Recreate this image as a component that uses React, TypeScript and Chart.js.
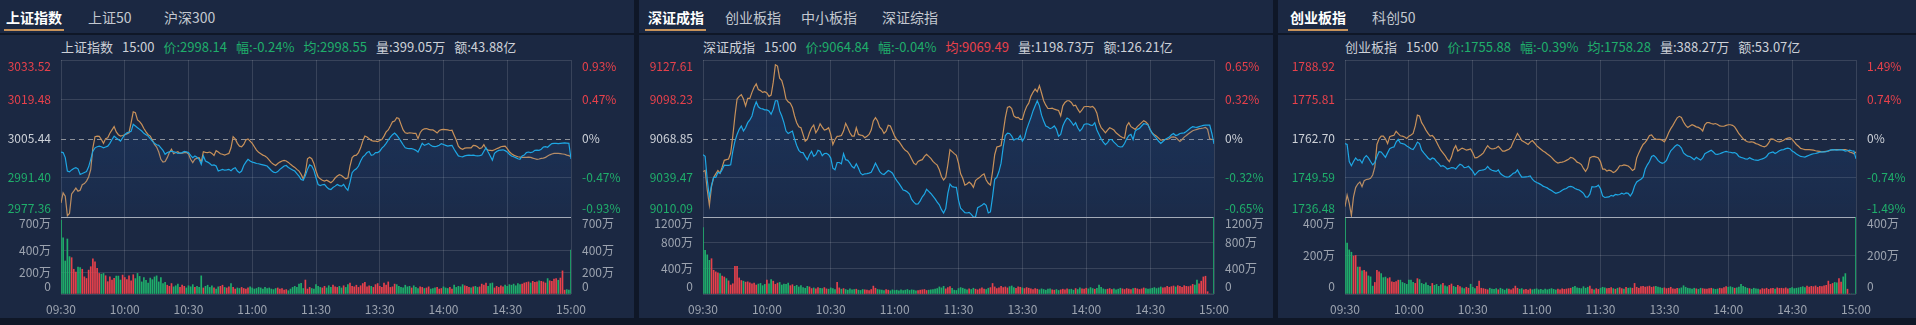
import React, { useEffect, useRef } from 'react';
import { Chart, registerables } from 'chart.js';

Chart.register(...registerables);

const FONT = '"Noto Sans CJK SC", "Noto Sans", sans-serif';
const RED = '#e8414b';
const GREEN = '#1fae6b';
const NEUTRAL = '#cdd1d8';
const AXIS_GRAY = '#9ca3af';
const BLUE = '#1ea7e4';
const ORANGE = '#c8915a';
const GRID = 'rgba(255,255,255,0.13)';
const SEP = '#a4abb7';
const PANEL_BG = '#1b2842';
const GAP_BG = '#0f1727';

const TIME_TICKS = ['09:30', '10:00', '10:30', '11:00', '11:30', '13:30', '14:00', '14:30', '15:00'];

// ---------------- 上证指数 ----------------
const SH_PREV_CLOSE = 3005.44;
const SH_PRICE_TICKS = [2977.36, 2991.4, 3005.44, 3019.48, 3033.52];
const SH_PCT_TICKS = ['-0.93%', '-0.47%', '0%', '0.47%', '0.93%'];
const SH_VOL_TICKS = [0, 200, 400, 700];
const SH_INFO = { name: '上证指数', time: '15:00', price: 2998.14, pct: '-0.24%', avg: 2998.55, vol: '399.05万', amount: '43.88亿' };
const SH_PRICE = [
  3000.6, 3000.4, 2998.6, 2993.8, 2993.5, 2994.2, 2994.7, 2995.0, 2994.6, 2992.6,
  2992.9, 2993.3, 2993.6, 2995.3, 2998.0, 3000.9, 3002.1, 3002.5, 3002.7, 3002.5,
  3002.1, 3002.4, 3002.7, 3003.7, 3005.1, 3006.3, 3005.6, 3005.1, 3004.5, 3005.7,
  3006.8, 3007.5, 3007.7, 3008.0, 3010.5, 3009.9, 3009.3, 3008.7, 3008.1, 3007.3,
  3006.8, 3006.3, 3005.4, 3004.5, 3003.7, 3003.2, 3003.0, 3002.1, 3001.2, 2999.8,
  3000.4, 3000.7, 3000.9, 3000.7, 3000.5, 3000.1, 3000.2, 3000.4, 3000.8, 3000.7,
  3000.4, 2999.4, 2998.6, 2999.2, 2998.7, 2998.0, 2996.2, 2999.2, 2997.4, 2997.0,
  2996.5, 2995.8, 2996.0, 2995.6, 2993.8, 2994.1, 2994.4, 2994.1, 2994.2, 2994.4,
  2993.9, 2994.6, 2995.0, 2993.8, 2993.2, 2993.8, 2995.8, 2997.0, 2998.0, 2997.4,
  2997.0, 2996.8, 2996.5, 2996.4, 2996.2, 2996.0, 2995.8, 2995.6, 2994.8, 2994.0,
  2993.4, 2993.2, 2993.6, 2994.4, 2995.0, 2995.6, 2995.8, 2995.1, 2994.6, 2994.2,
  2993.8, 2992.9, 2992.0, 2990.8, 2990.5, 2992.2, 2994.4, 2996.0, 2995.6, 2994.1,
  2991.4, 2989.0, 2988.6, 2988.9, 2989.0, 2988.1, 2987.4, 2987.2, 2987.9, 2988.4,
  2989.0, 2988.6, 2988.4, 2989.0, 2987.8, 2986.9, 2989.8, 2993.2, 2994.1, 2994.6,
  2995.6, 2997.4, 2998.8, 2999.5, 3000.4, 3000.8, 2999.4, 2999.6, 3000.4, 3000.4,
  3000.9, 3002.0, 3002.7, 3003.7, 3004.9, 3005.9, 3006.8, 3007.4, 3006.6, 3005.6,
  3004.4, 3003.2, 3002.1, 3001.9, 3001.8, 3001.8, 3001.6, 3001.2, 3000.6, 3002.1,
  3003.7, 3003.0, 3003.3, 3003.7, 3003.0, 3002.6, 3002.5, 3002.7, 3003.0, 3003.6,
  3003.3, 3003.0, 3002.7, 3002.9, 3003.0, 3001.6, 3000.4, 2999.2, 2999.0, 2998.9,
  2999.2, 2999.4, 2999.5, 2999.4, 2999.5, 2999.3, 2999.2, 2999.3, 2999.5, 3000.9,
  3002.1, 3000.6, 2999.2, 2997.7, 3000.1, 3000.8, 3001.2, 3001.3, 3001.4, 3001.1,
  3000.6, 2999.8, 2999.2, 2998.9, 2998.6, 2998.2, 2998.0, 2999.2, 2999.5, 3000.4,
  3000.6, 3000.4, 3000.6, 3001.2, 3001.3, 3001.2, 3001.6, 3002.4, 3002.5, 3002.3,
  3003.0, 3003.6, 3003.7, 3003.7, 3003.6, 3003.7, 3003.8, 3003.9, 3003.8, 3003.7,
  2998.1,
];
const SH_AVG = [
  2982.4, 2986.0, 2984.8, 2977.8, 2978.6, 2985.6, 2986.6, 2987.7, 2986.6, 2986.9,
  2988.9, 2989.3, 2990.2, 2991.7, 2994.4, 3002.1, 3006.1, 3006.3, 3006.2, 3005.1,
  3003.7, 3005.4, 3005.7, 3007.3, 3008.5, 3009.7, 3007.8, 3006.8, 3006.3, 3006.5,
  3006.8, 3007.1, 3007.5, 3011.1, 3015.0, 3014.7, 3012.1, 3011.5, 3010.5, 3009.0,
  3007.8, 3006.8, 3006.3, 3004.9, 3003.3, 3002.4, 3000.6, 2998.0, 2997.0, 2997.2,
  2998.6, 3000.4, 3001.6, 3000.0, 3000.4, 3000.7, 3000.1, 3000.2, 3000.4, 3000.5,
  2999.9, 2998.0, 2996.8, 2998.0, 2998.4, 2998.6, 2997.0, 3000.7, 3000.5, 3000.4,
  3000.6, 3000.1, 2999.4, 3001.1, 3000.6, 3000.0, 2999.8, 2999.5, 2999.8, 3000.1,
  3002.1, 3006.1, 3005.3, 3003.7, 3002.7, 3002.5, 3003.3, 3004.9, 3005.3, 3004.5,
  3003.7, 3002.5, 3001.3, 3000.5, 3000.0, 2999.5, 2999.2, 2998.6, 2997.7, 2996.8,
  2996.2, 2995.8, 2996.5, 2997.0, 2997.4, 2997.6, 2997.4, 2996.9, 2996.2, 2995.6,
  2995.1, 2994.4, 2993.8, 2992.6, 2991.0, 2993.2, 2998.2, 2998.7, 2998.2, 2996.5,
  2993.8, 2991.7, 2991.0, 2990.5, 2990.2, 2990.5, 2990.1, 2989.6, 2990.3, 2991.3,
  2992.0, 2992.5, 2992.2, 2991.6, 2991.0, 2991.4, 2995.6, 2998.6, 2999.3, 2999.5,
  3000.4, 3002.1, 3004.5, 3006.3, 3006.0, 3005.4, 3004.7, 3004.5, 3004.5, 3004.3,
  3004.7, 3005.1, 3006.3, 3007.8, 3008.5, 3009.9, 3011.4, 3011.7, 3012.9, 3012.6,
  3010.5, 3008.5, 3007.5, 3007.3, 3007.5, 3007.4, 3007.3, 3007.3, 3005.4, 3007.5,
  3008.5, 3008.9, 3009.0, 3008.7, 3008.5, 3008.5, 3008.0, 3007.4, 3008.3, 3008.6,
  3008.7, 3008.6, 3008.5, 3008.3, 3008.4, 3006.6, 3004.9, 3002.7, 3001.9, 3001.6,
  3002.0, 3002.1, 3002.1, 3002.1, 3003.0, 3002.9, 3002.5, 3001.8, 3002.1, 3003.2,
  3001.8, 3001.3, 3001.2, 3001.1, 3001.4, 3001.8, 3002.1, 3002.5, 3002.6, 3002.7,
  3001.8, 3000.7, 3000.0, 2999.5, 2999.2, 2998.9, 2998.8, 2998.7, 2998.7, 2998.7,
  2998.8, 2998.7, 2998.4, 2998.2, 2998.0, 2998.1, 2998.3, 2998.4, 2998.7, 2999.2,
  2999.6, 2999.9, 3000.1, 3000.1, 3000.1, 3000.0, 2999.9, 2999.8, 2999.5, 2999.3,
  2998.9,
];
const SH_VOL = [
  670, 510, 300, 500, 340, 330, 225, 200, 245, 240,
  225, 156, 141, 217, 248, 320, 293, 233, 187, 181,
  187, 166, 112, 157, 127, 142, 163, 163, 127, 172,
  150, 130, 165, 120, 175, 140, 187, 160, 110, 150,
  125, 100, 145, 130, 155, 165, 110, 150, 95, 105,
  80, 70, 95, 65, 75, 90, 60, 80, 70, 55,
  75, 65, 85, 60, 70, 60, 165, 55, 70, 80,
  60, 75, 55, 45, 65, 70, 80, 60, 55, 65,
  95, 60, 45, 55, 50, 60, 50, 45, 55, 65,
  55, 45, 50, 60, 55, 45, 60, 50, 55, 45,
  40, 50, 55, 45, 50, 35, 40, 30, 45, 60,
  70, 60, 90, 97, 50, 127, 45, 60, 50, 45,
  85, 70, 60, 55, 70, 55, 75, 60, 80, 65,
  60, 70, 55, 75, 60, 85, 100, 70, 65, 80,
  60, 75, 95, 105, 65, 75, 70, 60, 85, 95,
  70, 60, 100, 80, 110, 60, 65, 90, 85, 70,
  60, 55, 80, 65, 70, 55, 75, 60, 50, 65,
  60, 50, 55, 65, 45, 50, 55, 60, 45, 50,
  65, 55, 50, 60, 45, 80, 60, 70, 65, 85,
  75, 70, 60, 55, 65, 70, 60, 65, 90, 80,
  100, 70, 95, 100, 55, 70, 60, 75, 65, 80,
  70, 85, 80, 90, 75, 95, 85, 90, 100, 105,
  110, 100, 115, 105, 110, 120, 115, 110, 100, 140,
  120, 115, 135, 140, 125, 145, 210, 35, 40, 35,
  400,
];

// ---------------- 深证成指 ----------------
const SZ_PREV_CLOSE = 9068.85;
const SZ_PRICE_TICKS = [9010.09, 9039.47, 9068.85, 9098.23, 9127.61];
const SZ_PCT_TICKS = ['-0.65%', '-0.32%', '0%', '0.32%', '0.65%'];
const SZ_VOL_TICKS = [0, 400, 800, 1200];
const SZ_INFO = { name: '深证成指', time: '15:00', price: 9064.84, pct: '-0.04%', avg: 9069.49, vol: '1198.73万', amount: '126.21亿' };
const SZ_PRICE = [
  9056.7, 9055.5, 9037.8, 9025.2, 9034.0, 9039.8, 9039.8, 9043.4, 9042.9, 9045.4,
  9048.9, 9048.7, 9048.7, 9049.2, 9059.3, 9066.8, 9071.9, 9075.7, 9078.2, 9074.4,
  9076.9, 9080.7, 9082.7, 9085.7, 9092.1, 9096.3, 9092.6, 9091.3, 9091.0, 9090.3,
  9090.3, 9089.5, 9087.0, 9090.8, 9097.1, 9097.1, 9089.5, 9085.7, 9080.7, 9074.4,
  9072.6, 9073.6, 9074.4, 9068.6, 9063.6, 9060.0, 9058.5, 9058.3, 9055.5, 9053.0,
  9056.7, 9059.3, 9055.5, 9056.7, 9060.0, 9059.3, 9056.0, 9057.5, 9057.8, 9056.7,
  9054.2, 9046.7, 9045.4, 9050.9, 9050.9, 9049.9, 9057.5, 9053.0, 9052.5, 9050.4,
  9047.9, 9046.7, 9049.9, 9046.7, 9042.9, 9041.6, 9042.4, 9042.6, 9042.9, 9043.6,
  9046.7, 9050.4, 9047.4, 9044.1, 9042.4, 9041.9, 9043.4, 9044.9, 9044.1, 9042.9,
  9039.8, 9037.3, 9035.3, 9032.8, 9030.3, 9029.8, 9028.8, 9027.2, 9023.2, 9021.2,
  9019.7, 9019.9, 9022.2, 9025.2, 9027.2, 9030.8, 9029.3, 9027.7, 9025.7, 9023.7,
  9021.2, 9019.2, 9015.6, 9013.1, 9016.4, 9027.7, 9034.8, 9032.8, 9032.5, 9032.3,
  9022.7, 9016.6, 9015.1, 9013.4, 9013.1, 9013.6, 9012.1, 9010.1, 9010.1, 9017.1,
  9017.9, 9018.9, 9020.2, 9018.9, 9013.1, 9013.9, 9025.2, 9038.3, 9039.8, 9044.1,
  9050.4, 9062.5, 9071.1, 9072.9, 9072.6, 9070.6, 9067.6, 9068.6, 9068.6, 9071.1,
  9066.8, 9069.4, 9075.7, 9080.2, 9084.5, 9089.5, 9093.3, 9097.1, 9093.3, 9086.3,
  9082.0, 9078.2, 9077.4, 9076.2, 9076.9, 9078.2, 9075.7, 9070.6, 9071.9, 9078.2,
  9081.7, 9084.2, 9083.2, 9081.2, 9078.7, 9080.7, 9076.9, 9074.4, 9076.2, 9079.4,
  9079.9, 9079.7, 9078.9, 9078.7, 9080.7, 9075.2, 9071.9, 9068.6, 9066.1, 9064.3,
  9065.8, 9068.1, 9068.1, 9066.1, 9064.6, 9063.0, 9062.5, 9062.8, 9065.1, 9068.6,
  9071.1, 9071.9, 9068.1, 9074.4, 9075.7, 9076.4, 9078.2, 9079.9, 9079.7, 9078.9,
  9075.7, 9072.6, 9070.6, 9068.9, 9066.8, 9065.1, 9066.6, 9068.1, 9069.1, 9069.9,
  9071.6, 9072.6, 9071.1, 9071.6, 9072.6, 9072.9, 9073.1, 9074.1, 9075.4, 9076.7,
  9077.7, 9077.4, 9077.2, 9077.7, 9078.2, 9078.7, 9078.9, 9078.9, 9078.9, 9072.6,
  9064.8,
];
const SZ_AVG = [
  9044.1, 9044.9, 9030.3, 9018.9, 9032.8, 9039.6, 9042.4, 9044.9, 9042.9, 9047.4,
  9052.5, 9053.0, 9053.5, 9058.0, 9070.6, 9085.7, 9098.4, 9100.4, 9101.6, 9098.4,
  9093.3, 9098.9, 9098.9, 9103.4, 9107.2, 9109.7, 9105.4, 9104.7, 9103.4, 9103.9,
  9102.9, 9100.4, 9101.4, 9111.0, 9124.1, 9123.1, 9114.0, 9112.2, 9106.4, 9098.4,
  9096.3, 9095.3, 9092.1, 9085.7, 9080.7, 9077.7, 9076.9, 9071.9, 9066.8, 9068.1,
  9073.1, 9076.9, 9078.9, 9073.1, 9075.7, 9079.9, 9077.4, 9075.2, 9075.7, 9076.9,
  9071.9, 9064.3, 9068.1, 9070.4, 9070.6, 9071.1, 9074.4, 9080.2, 9076.9, 9073.1,
  9070.6, 9070.6, 9076.9, 9071.9, 9071.4, 9071.1, 9069.4, 9070.6, 9071.9, 9075.2,
  9082.0, 9084.5, 9082.0, 9077.4, 9075.7, 9072.6, 9074.4, 9078.7, 9078.2, 9074.4,
  9070.6, 9068.1, 9066.6, 9064.3, 9061.8, 9060.0, 9059.0, 9056.7, 9053.5, 9050.4,
  9049.2, 9051.7, 9052.5, 9053.0, 9055.5, 9057.0, 9055.5, 9054.0, 9051.7, 9050.2,
  9048.9, 9045.4, 9040.4, 9037.8, 9039.8, 9049.2, 9060.5, 9059.0, 9057.5, 9056.2,
  9050.4, 9042.4, 9039.1, 9034.0, 9034.8, 9036.3, 9034.8, 9032.3, 9037.3, 9038.8,
  9039.8, 9041.4, 9042.4, 9037.8, 9035.3, 9034.0, 9044.1, 9056.7, 9062.5, 9063.0,
  9063.6, 9073.6, 9084.5, 9092.1, 9092.8, 9091.3, 9085.7, 9084.5, 9084.7, 9083.2,
  9083.2, 9088.8, 9092.8, 9095.3, 9100.4, 9103.4, 9105.9, 9103.9, 9108.4, 9102.9,
  9097.1, 9093.8, 9091.3, 9091.3, 9091.5, 9090.8, 9090.3, 9089.8, 9085.7, 9093.3,
  9095.8, 9097.1, 9097.1, 9095.8, 9093.3, 9093.8, 9090.8, 9088.3, 9090.3, 9092.6,
  9092.8, 9092.8, 9092.3, 9092.8, 9091.3, 9087.8, 9080.7, 9076.9, 9075.2, 9073.1,
  9075.2, 9076.9, 9076.2, 9075.2, 9073.1, 9071.9, 9070.6, 9069.6, 9069.1, 9078.2,
  9080.7, 9077.7, 9076.7, 9075.7, 9077.7, 9079.2, 9080.7, 9082.2, 9081.2, 9079.4,
  9075.2, 9073.1, 9071.6, 9070.6, 9069.1, 9067.6, 9067.8, 9068.1, 9068.1, 9068.6,
  9069.9, 9070.1, 9069.6, 9068.1, 9066.6, 9068.1, 9069.9, 9071.1, 9072.4, 9073.6,
  9074.7, 9075.2, 9075.7, 9076.2, 9076.4, 9076.7, 9077.2, 9075.7, 9068.6, 9068.1,
  9068.1,
];
const SZ_VOL = [
  1036, 680, 610, 525, 550, 370, 345, 330, 320, 280,
  265, 240, 205, 140, 160, 430, 430, 250, 210, 200,
  185, 190, 175, 160, 170, 140, 155, 165, 130, 150,
  215, 160, 225, 200, 150, 170, 180, 140, 155, 150,
  170, 130, 145, 120, 135, 110, 130, 100, 90, 120,
  110, 85, 95, 80, 100, 90, 85, 100, 80, 75,
  95, 85, 70, 180, 95, 75, 85, 70, 60, 80,
  65, 70, 75, 60, 55, 70, 65, 60, 55, 70,
  123, 90, 70, 65, 60, 55, 70, 60, 50, 65,
  55, 60, 50, 65, 55, 60, 70, 55, 65, 60,
  50, 55, 60, 65, 70, 55, 60, 65, 70, 75,
  85, 110, 95, 120, 80, 100, 115, 90, 60, 55,
  85, 100, 90, 75, 65, 80, 70, 90, 75, 65,
  80, 95, 75, 70, 90, 100, 164, 110, 85, 95,
  120, 100, 110, 95, 115, 125, 100, 90, 110, 105,
  95, 85, 100, 90, 80, 70, 85, 75, 65, 80,
  70, 60, 75, 80, 65, 60, 70, 55, 65, 75,
  65, 80, 70, 75, 60, 85, 70, 95, 80, 75,
  90, 80, 100, 85, 75, 90, 138, 105, 80, 70,
  75, 85, 70, 80, 65, 75, 90, 80, 70, 85,
  75, 70, 85, 90, 80, 70, 80, 95, 85, 75,
  80, 90, 100, 85, 95, 110, 95, 100, 120, 105,
  115, 125, 110, 130, 120, 105, 130, 120, 115, 125,
  150, 140, 215, 160, 200, 266, 277, 36, 0, 0,
  1200,
];

// ---------------- 创业板指 ----------------
const CY_PREV_CLOSE = 1762.7;
const CY_PRICE_TICKS = [1736.48, 1749.59, 1762.7, 1775.81, 1788.92];
const CY_PCT_TICKS = ['-1.49%', '-0.74%', '0%', '0.74%', '1.49%'];
const CY_VOL_TICKS = [0, 200, 400];
const CY_INFO = { name: '创业板指', time: '15:00', price: 1755.88, pct: '-0.39%', avg: 1758.28, vol: '388.27万', amount: '53.07亿' };
const CY_PRICE = [
  1761.0, 1760.7, 1755.0, 1753.6, 1755.0, 1756.2, 1755.4, 1755.6, 1754.5, 1756.2,
  1757.0, 1756.2, 1755.0, 1753.9, 1754.7, 1756.7, 1758.3, 1758.2, 1757.3, 1756.4,
  1757.9, 1759.3, 1759.7, 1759.9, 1761.5, 1762.4, 1761.2, 1761.0, 1760.8, 1760.2,
  1759.8, 1759.3, 1759.0, 1760.1, 1761.5, 1761.0, 1758.8, 1757.9, 1757.1, 1756.2,
  1755.6, 1756.2, 1755.9, 1755.0, 1754.3, 1753.4, 1753.6, 1753.2, 1752.5, 1752.7,
  1753.0, 1752.9, 1752.5, 1753.4, 1754.1, 1753.8, 1753.0, 1753.1, 1753.4, 1752.6,
  1751.8, 1750.5, 1751.3, 1752.0, 1752.1, 1752.2, 1752.5, 1753.4, 1752.5, 1752.1,
  1751.9, 1751.7, 1752.2, 1751.0, 1750.4, 1750.0, 1749.8, 1749.9, 1750.4, 1751.1,
  1751.3, 1752.2, 1750.9, 1749.8, 1749.8, 1749.9, 1750.0, 1750.2, 1749.1, 1748.4,
  1748.0, 1747.7, 1747.3, 1746.8, 1746.5, 1746.2, 1745.7, 1745.3, 1744.8, 1744.4,
  1744.6, 1744.9, 1745.4, 1745.8, 1746.0, 1746.6, 1746.7, 1746.5, 1746.0, 1745.7,
  1745.5, 1745.0, 1744.4, 1743.2, 1743.1, 1744.1, 1746.6, 1746.5, 1746.6, 1747.1,
  1745.9, 1743.5, 1743.0, 1743.1, 1743.2, 1743.7, 1743.5, 1744.0, 1743.9, 1744.0,
  1744.4, 1744.1, 1744.5, 1744.4, 1743.5, 1744.6, 1746.8, 1748.2, 1748.7, 1749.1,
  1749.8, 1752.5, 1753.9, 1755.0, 1756.7, 1757.0, 1756.4, 1755.4, 1754.8, 1754.4,
  1754.7, 1755.4, 1757.1, 1758.6, 1759.3, 1760.1, 1760.6, 1760.3, 1759.5, 1757.9,
  1757.3, 1756.8, 1756.7, 1756.2, 1755.6, 1756.4, 1755.9, 1755.5, 1756.2, 1757.6,
  1758.0, 1758.4, 1758.8, 1758.2, 1757.5, 1757.4, 1757.6, 1757.9, 1758.2, 1758.4,
  1758.2, 1758.1, 1757.9, 1758.0, 1757.6, 1756.7, 1756.4, 1756.2, 1755.9, 1755.8,
  1756.3, 1755.9, 1755.6, 1755.5, 1755.4, 1755.7, 1755.9, 1756.2, 1756.7, 1757.7,
  1758.0, 1758.2, 1757.7, 1758.1, 1758.6, 1758.9, 1759.0, 1759.3, 1759.5, 1759.3,
  1758.5, 1758.1, 1757.5, 1757.1, 1756.7, 1756.6, 1756.5, 1756.8, 1757.1, 1757.4,
  1757.6, 1757.7, 1757.9, 1758.1, 1758.2, 1758.2, 1758.3, 1758.6, 1758.8, 1759.0,
  1758.9, 1758.8, 1758.9, 1759.0, 1758.8, 1758.5, 1758.6, 1758.8, 1758.6, 1758.5,
  1755.9,
];
const CY_AVG = [
  1739.9, 1743.8, 1741.0, 1737.0, 1743.2, 1746.3, 1747.5, 1748.2, 1746.6, 1748.6,
  1749.0, 1749.1, 1749.4, 1750.5, 1753.1, 1760.7, 1762.6, 1763.5, 1763.5, 1762.6,
  1761.0, 1763.3, 1763.6, 1763.8, 1765.1, 1764.3, 1763.6, 1763.5, 1763.2, 1762.7,
  1763.5, 1763.9, 1764.4, 1766.9, 1770.5, 1770.2, 1768.0, 1766.9, 1765.5, 1764.4,
  1763.5, 1763.7, 1762.9, 1761.5, 1760.1, 1758.8, 1757.9, 1757.0, 1755.8, 1755.0,
  1756.5, 1759.0, 1760.3, 1758.5, 1759.0, 1759.5, 1759.2, 1758.8, 1759.0, 1759.2,
  1757.9, 1756.2, 1756.3, 1756.8, 1757.3, 1757.9, 1759.2, 1760.3, 1759.5, 1759.2,
  1759.3, 1759.5, 1760.1, 1759.3, 1758.5, 1758.5, 1758.8, 1759.1, 1759.8, 1761.5,
  1762.9, 1764.4, 1763.3, 1762.0, 1761.6, 1761.2, 1760.7, 1761.5, 1762.0, 1761.2,
  1760.3, 1759.7, 1759.1, 1758.5, 1758.1, 1757.5, 1757.0, 1756.4, 1755.6, 1754.9,
  1754.5, 1754.7, 1754.8, 1755.0, 1755.4, 1755.8, 1756.4, 1756.2, 1755.6, 1754.8,
  1754.5, 1754.0, 1752.7, 1751.7, 1752.9, 1756.2, 1756.6, 1756.7, 1756.5, 1756.2,
  1754.9, 1752.5, 1752.5, 1751.8, 1752.1, 1751.9, 1751.3, 1751.7, 1752.5, 1753.6,
  1753.6, 1753.9, 1753.7, 1753.5, 1752.9, 1752.0, 1752.5, 1756.2, 1757.9, 1759.4,
  1760.7, 1761.4, 1762.4, 1763.7, 1763.9, 1762.9, 1762.5, 1762.4, 1762.4, 1762.1,
  1761.6, 1762.9, 1764.6, 1766.0, 1767.1, 1768.4, 1769.6, 1770.1, 1769.7, 1768.2,
  1767.1, 1766.4, 1766.9, 1767.3, 1767.0, 1766.6, 1766.4, 1766.0, 1765.2, 1767.3,
  1768.0, 1768.0, 1767.7, 1767.5, 1767.7, 1767.4, 1766.9, 1766.8, 1766.8, 1767.1,
  1767.3, 1767.3, 1767.1, 1766.6, 1765.5, 1764.3, 1763.5, 1762.6, 1762.0, 1761.6,
  1761.5, 1761.6, 1761.4, 1761.0, 1760.8, 1760.4, 1760.1, 1759.9, 1760.3, 1761.2,
  1762.6, 1762.5, 1762.1, 1761.7, 1761.6, 1761.8, 1762.1, 1762.6, 1762.8, 1763.0,
  1762.4, 1761.6, 1760.7, 1760.1, 1759.4, 1759.2, 1759.0, 1759.0, 1759.0, 1758.9,
  1758.8, 1758.6, 1758.5, 1758.4, 1758.2, 1758.3, 1758.4, 1758.5, 1758.8, 1758.9,
  1759.0, 1759.0, 1759.0, 1759.0, 1759.0, 1759.0, 1758.8, 1758.2, 1758.0, 1757.6,
  1758.2,
];
const CY_VOL = [
  395, 265, 229, 217, 197, 200, 140, 140, 120, 123,
  115, 94, 89, 41, 60, 123, 115, 106, 85, 88,
  80, 85, 63, 60, 65, 72, 72, 60, 55, 50,
  72, 72, 60, 55, 80, 75, 55, 50, 58, 45,
  40, 55, 45, 50, 40, 48, 55, 42, 38, 45,
  52, 40, 35, 45, 38, 32, 28, 35, 30, 51,
  35, 28, 40, 67, 30, 28, 25, 22, 30, 26,
  24, 28, 22, 30, 25, 20, 27, 25, 22, 28,
  41, 30, 25, 28, 22, 24, 20, 26, 22, 25,
  27, 22, 24, 20, 26, 22, 25, 28, 24, 21,
  25, 22, 27, 24, 26, 28, 30, 35, 40, 32,
  30, 28, 38, 30, 35, 41, 25, 22, 28, 24,
  30, 35, 32, 28, 30, 34, 28, 25, 30, 33,
  28, 26, 35, 30, 32, 30, 55, 35, 30, 38,
  40, 36, 38, 41, 35, 38, 40, 36, 34, 30,
  32, 28, 30, 35, 27, 25, 30, 28, 32, 43,
  35, 30, 28, 25, 30, 27, 24, 30, 28, 26,
  25, 28, 30, 27, 24, 26, 30, 28, 34, 38,
  35, 38, 34, 30, 32, 36, 50, 40, 35, 30,
  28, 25, 30, 27, 25, 22, 28, 26, 30, 24,
  28, 30, 26, 32, 29, 30, 28, 32, 27, 30,
  34, 28, 30, 32, 35, 38, 34, 41, 36, 40,
  38, 42, 35, 40, 38, 42, 45, 67, 50, 55,
  60, 58, 80, 62, 89, 106, 25, 0, 0, 0,
  400,
];

type Info = { name: string; time: string; price: number; pct: string; avg: number; vol: string; amount: string };
type Panel = {
  left: number; width: number; plotLeft: number; plotWidth: number;
  tabs: string[]; tabX: number[]; underline: [number, number];
  info: Info; prevClose: number; priceTicks: number[]; pctTicks: string[]; volTicks: number[];
  price: number[]; avg: number[]; vol: number[];
};

const PANELS: Panel[] = [
  {
    left: 0, width: 634, plotLeft: 61, plotWidth: 510,
    tabs: ['上证指数', '上证50', '沪深300'], tabX: [6, 88, 164], underline: [4, 60],
    info: SH_INFO, prevClose: SH_PREV_CLOSE, priceTicks: SH_PRICE_TICKS, pctTicks: SH_PCT_TICKS, volTicks: SH_VOL_TICKS,
    price: SH_PRICE, avg: SH_AVG, vol: SH_VOL,
  },
  {
    left: 639, width: 634, plotLeft: 703, plotWidth: 511,
    tabs: ['深证成指', '创业板指', '中小板指', '深证综指'], tabX: [648, 725, 801, 882], underline: [645, 61],
    info: SZ_INFO, prevClose: SZ_PREV_CLOSE, priceTicks: SZ_PRICE_TICKS, pctTicks: SZ_PCT_TICKS, volTicks: SZ_VOL_TICKS,
    price: SZ_PRICE, avg: SZ_AVG, vol: SZ_VOL,
  },
  {
    left: 1278, width: 638, plotLeft: 1345, plotWidth: 511,
    tabs: ['创业板指', '科创50'], tabX: [1290, 1372], underline: [1288, 60],
    info: CY_INFO, prevClose: CY_PREV_CLOSE, priceTicks: CY_PRICE_TICKS, pctTicks: CY_PCT_TICKS, volTicks: CY_VOL_TICKS,
    price: CY_PRICE, avg: CY_AVG, vol: CY_VOL,
  },
];

const PAD_X = 61;
const PRICE_TOP = 52, PRICE_H = 173, PRICE_PAD_T = 8, PRICE_PAD_B = 8;
const VOL_TOP = 208, VOL_H = 110, VOL_PAD_T = 9, VOL_PAD_B = 24;

function cmpColor(v: number, prev: number) {
  if (Math.abs(v - prev) < 1e-6) return NEUTRAL;
  return v > prev ? RED : GREEN;
}

const sideLabels = {
  id: 'sideLabels',
  afterDraw(chart: any, _args: any, opts: any) {
    const { ctx, chartArea: ca, scales } = chart;
    const y = scales.y;
    const x = scales.x;
    ctx.save();
    ctx.font = `12px ${FONT}`;
    ctx.textBaseline = 'middle';
    (opts.ticks || []).forEach((t: any) => {
      let py = y.getPixelForValue(t.value);
      if (t.value === y.max) py += opts.topShift;
      else if (t.value === y.min) py -= opts.bottomShift;
      ctx.fillStyle = t.color;
      ctx.textAlign = 'right';
      ctx.fillText(t.left, ca.left - 10, py);
      ctx.textAlign = 'left';
      ctx.fillText(t.right, ca.right + 11, py);
    });
    if (opts.xLabels) {
      ctx.fillStyle = AXIS_GRAY;
      ctx.textAlign = 'center';
      opts.xLabels.forEach((lab: string, i: number) => {
        ctx.fillText(lab, x.getPixelForValue(i * 30), ca.bottom + 15);
      });
    }
    ctx.restore();
  },
};

const prevCloseLine = {
  id: 'prevCloseLine',
  beforeDatasetsDraw(chart: any, _args: any, opts: any) {
    if (opts.value == null) return;
    const { ctx, chartArea: ca } = chart;
    const py = Math.round(chart.scales.y.getPixelForValue(opts.value)) + 0.5;
    ctx.save();
    ctx.strokeStyle = '#8d9199';
    ctx.lineWidth = 1;
    ctx.setLineDash([5, 4]);
    ctx.beginPath();
    ctx.moveTo(ca.left, py);
    ctx.lineTo(ca.right, py);
    ctx.stroke();
    ctx.restore();
  },
};

function ChartPair({ p }: { p: Panel }) {
  const priceRef = useRef<HTMLCanvasElement>(null);
  const volRef = useRef<HTMLCanvasElement>(null);
  const cw = p.plotWidth + PAD_X * 2;

  useEffect(() => {
    const prev = p.prevClose;
    const pMin = p.priceTicks[0];
    const pMax = p.priceTicks[p.priceTicks.length - 1];
    const vMax = p.volTicks[p.volTicks.length - 1];

    const priceChart = new Chart(priceRef.current as HTMLCanvasElement, {
      type: 'line',
      data: {
        datasets: [
          {
            data: p.price.map((y, i) => ({ x: i, y })),
            borderColor: BLUE,
            borderWidth: 1.2,
            pointRadius: 0,
            tension: 0,
            fill: 'start',
            backgroundColor: (c: any) => {
              const ch = c.chart;
              const ca = ch.chartArea;
              if (!ca) return 'rgba(33,100,190,0.12)';
              const g = ch.ctx.createLinearGradient(0, ca.top, 0, ca.bottom);
              g.addColorStop(0, 'rgba(33,100,195,0.22)');
              g.addColorStop(1, 'rgba(33,100,195,0.06)');
              return g;
            },
          },
          {
            data: p.avg.map((y, i) => ({ x: i, y })),
            borderColor: ORANGE,
            borderWidth: 1.2,
            pointRadius: 0,
            tension: 0,
            fill: false,
          },
        ],
      } as any,
      options: {
        animation: false,
        responsive: false,
        maintainAspectRatio: false,
        events: [],
        layout: { padding: { left: PAD_X, right: PAD_X, top: PRICE_PAD_T, bottom: PRICE_PAD_B } },
        plugins: {
          legend: { display: false },
          tooltip: { enabled: false },
          sideLabels: {
            ticks: p.priceTicks.map((v, i) => ({ value: v, left: v.toFixed(2), right: p.pctTicks[i], color: cmpColor(v, prev) })),
            topShift: 6.5,
            bottomShift: 8.5,
          },
          prevCloseLine: { value: prev },
        } as any,
        scales: {
          x: {
            type: 'linear', min: 0, max: 240,
            ticks: { display: false, stepSize: 30 },
            grid: { color: GRID, drawTicks: false },
            border: { display: false },
            afterFit: (s: any) => { s.height = 0; },
          },
          y: {
            type: 'linear', min: pMin, max: pMax,
            ticks: { display: false },
            afterBuildTicks: (s: any) => { s.ticks = p.priceTicks.map((v) => ({ value: v })); },
            grid: {
              drawTicks: false,
              color: (c: any) => {
                const v = c.tick ? c.tick.value : NaN;
                if (Math.abs(v - prev) < 1e-6 || Math.abs(v - pMin) < 1e-6) return 'rgba(0,0,0,0)';
                return GRID;
              },
            },
            border: { display: false },
            afterFit: (s: any) => { s.width = 0; },
          },
        } as any,
      },
      plugins: [prevCloseLine, sideLabels] as any,
    });

    const volColors = p.vol.map((_, i) => {
      const before = i === 0 ? prev : p.price[i - 1];
      return p.price[i] >= before ? RED : GREEN;
    });

    const volChart = new Chart(volRef.current as HTMLCanvasElement, {
      type: 'bar',
      data: {
        datasets: [
          {
            data: p.vol.map((y, i) => ({ x: i, y })),
            backgroundColor: volColors,
            borderWidth: 0,
            barThickness: 1,
          },
        ],
      } as any,
      options: {
        animation: false,
        responsive: false,
        maintainAspectRatio: false,
        events: [],
        layout: { padding: { left: PAD_X, right: PAD_X, top: VOL_PAD_T, bottom: VOL_PAD_B } },
        plugins: {
          legend: { display: false },
          tooltip: { enabled: false },
          sideLabels: {
            ticks: p.volTicks.map((v) => ({ value: v, left: v === 0 ? '0' : `${v}万`, right: v === 0 ? '0' : `${v}万`, color: AXIS_GRAY })),
            topShift: 6.5,
            bottomShift: 7.5,
            xLabels: TIME_TICKS,
          },
        } as any,
        scales: {
          x: {
            type: 'linear', min: 0, max: 240, offset: false,
            ticks: { display: false, stepSize: 30 },
            grid: { color: GRID, drawTicks: false, offset: false },
            border: { display: false },
            afterFit: (s: any) => { s.height = 0; },
          },
          y: {
            type: 'linear', min: 0, max: vMax,
            ticks: { display: false },
            afterBuildTicks: (s: any) => { s.ticks = p.volTicks.map((v) => ({ value: v })); },
            grid: {
              drawTicks: false,
              color: (c: any) => (c.tick && c.tick.value === vMax ? SEP : GRID),
            },
            border: { display: false },
            afterFit: (s: any) => { s.width = 0; },
          },
        } as any,
      },
      plugins: [sideLabels] as any,
    });

    return () => {
      priceChart.destroy();
      volChart.destroy();
    };
  }, [p]);

  return (
    <>
      <canvas
        ref={priceRef}
        width={cw}
        height={PRICE_H}
        style={{ position: 'absolute', left: p.plotLeft - PAD_X, top: PRICE_TOP, width: cw, height: PRICE_H }}
      />
      <canvas
        ref={volRef}
        width={cw}
        height={VOL_H}
        style={{ position: 'absolute', left: p.plotLeft - PAD_X, top: VOL_TOP, width: cw, height: VOL_H }}
      />
    </>
  );
}

function PanelView({ p }: { p: Panel }) {
  const info = p.info;
  const items = [
    { t: info.name, c: NEUTRAL },
    { t: info.time, c: NEUTRAL },
    { t: `价:${info.price.toFixed(2)}`, c: cmpColor(info.price, p.prevClose) },
    { t: `幅:${info.pct}`, c: cmpColor(info.price, p.prevClose) },
    { t: `均:${info.avg.toFixed(2)}`, c: cmpColor(info.avg, p.prevClose) },
    { t: `量:${info.vol}`, c: NEUTRAL },
    { t: `额:${info.amount}`, c: NEUTRAL },
  ];
  return (
    <>
      <div style={{ position: 'absolute', left: p.left, top: 0, width: p.width, height: 33, background: PANEL_BG }} />
      <div style={{ position: 'absolute', left: p.left, top: 35, width: p.width, height: 283, background: PANEL_BG }} />
      {p.tabs.map((t, i) => (
        <div
          key={t}
          style={{
            position: 'absolute', left: p.tabX[i], top: 8, height: 18, lineHeight: '18px',
            fontSize: 14, fontWeight: i === 0 ? 700 : 400, color: i === 0 ? '#ffffff' : '#c3c8d0',
            whiteSpace: 'nowrap',
          }}
        >
          {t}
        </div>
      ))}
      <div style={{ position: 'absolute', left: p.underline[0], top: 29, width: p.underline[1], height: 2, background: '#c8935a' }} />
      <div
        style={{
          position: 'absolute', left: p.plotLeft, top: 38, height: 18, lineHeight: '18px',
          fontSize: 13, display: 'flex', gap: 9, whiteSpace: 'nowrap',
        }}
      >
        {items.map((it, i) => (
          <span key={i} style={{ color: it.c }}>{it.t}</span>
        ))}
      </div>
      <ChartPair p={p} />
    </>
  );
}

export default function App() {
  return (
    <div
      style={{
        position: 'absolute', left: 0, top: 0, width: 1916, height: 325, overflow: 'hidden',
        background: GAP_BG, fontFamily: FONT,
      }}
    >
      {PANELS.map((p, i) => (
        <PanelView key={i} p={p} />
      ))}
    </div>
  );
}
